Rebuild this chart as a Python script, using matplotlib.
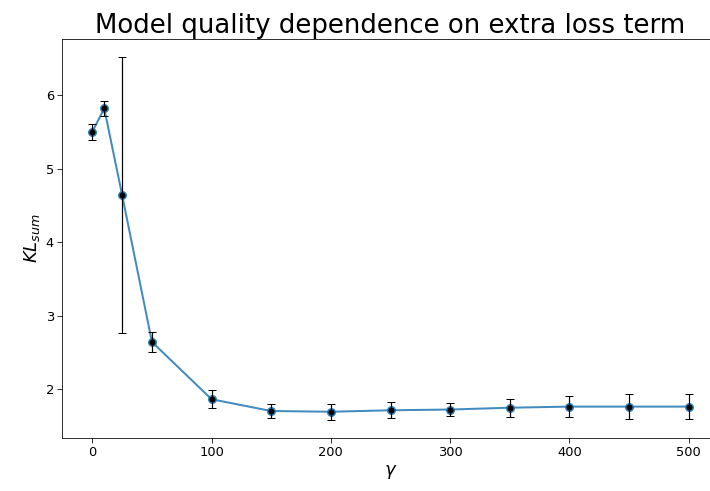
import numpy as np
import matplotlib
matplotlib.use("Agg")
import matplotlib.pyplot as plt

# KL_sum vs gamma, mean and spread over runs
gammas = [0, 10, 25, 50, 100, 150, 200, 250, 300, 350, 400, 450, 500]
kl_mean = [5.50, 5.82, 4.64, 2.64, 1.86, 1.70, 1.69, 1.71, 1.72, 1.745, 1.76, 1.76, 1.76]
kl_err = [0.11, 0.10, 1.88, 0.13, 0.12, 0.09, 0.11, 0.11, 0.09, 0.12, 0.14, 0.165, 0.165]

fig = plt.figure(figsize=(710 / 72, 491 / 72), dpi=72)
# axes run a little past the right edge of the canvas
ax = fig.add_axes([0.088, 0.108, 0.924, 0.813])

ax.plot(gammas, kl_mean, '-o', color='C0', lw=2, markersize=8, alpha=0.85)
ax.errorbar(gammas, kl_mean, yerr=kl_err, fmt='o', color='k', ecolor='k',
            elinewidth=1.2, capsize=4, markersize=5)

ax.set_xlim(-25, 525)
ax.set_title('Model quality dependence on extra loss term', fontsize=26)
ax.set_xlabel(r'$\gamma$', fontsize=18)
ax.set_ylabel(r'$KL_{sum}$', fontsize=18)
ax.tick_params(labelsize=13, length=5)

fig.savefig('out.png', dpi=72)
